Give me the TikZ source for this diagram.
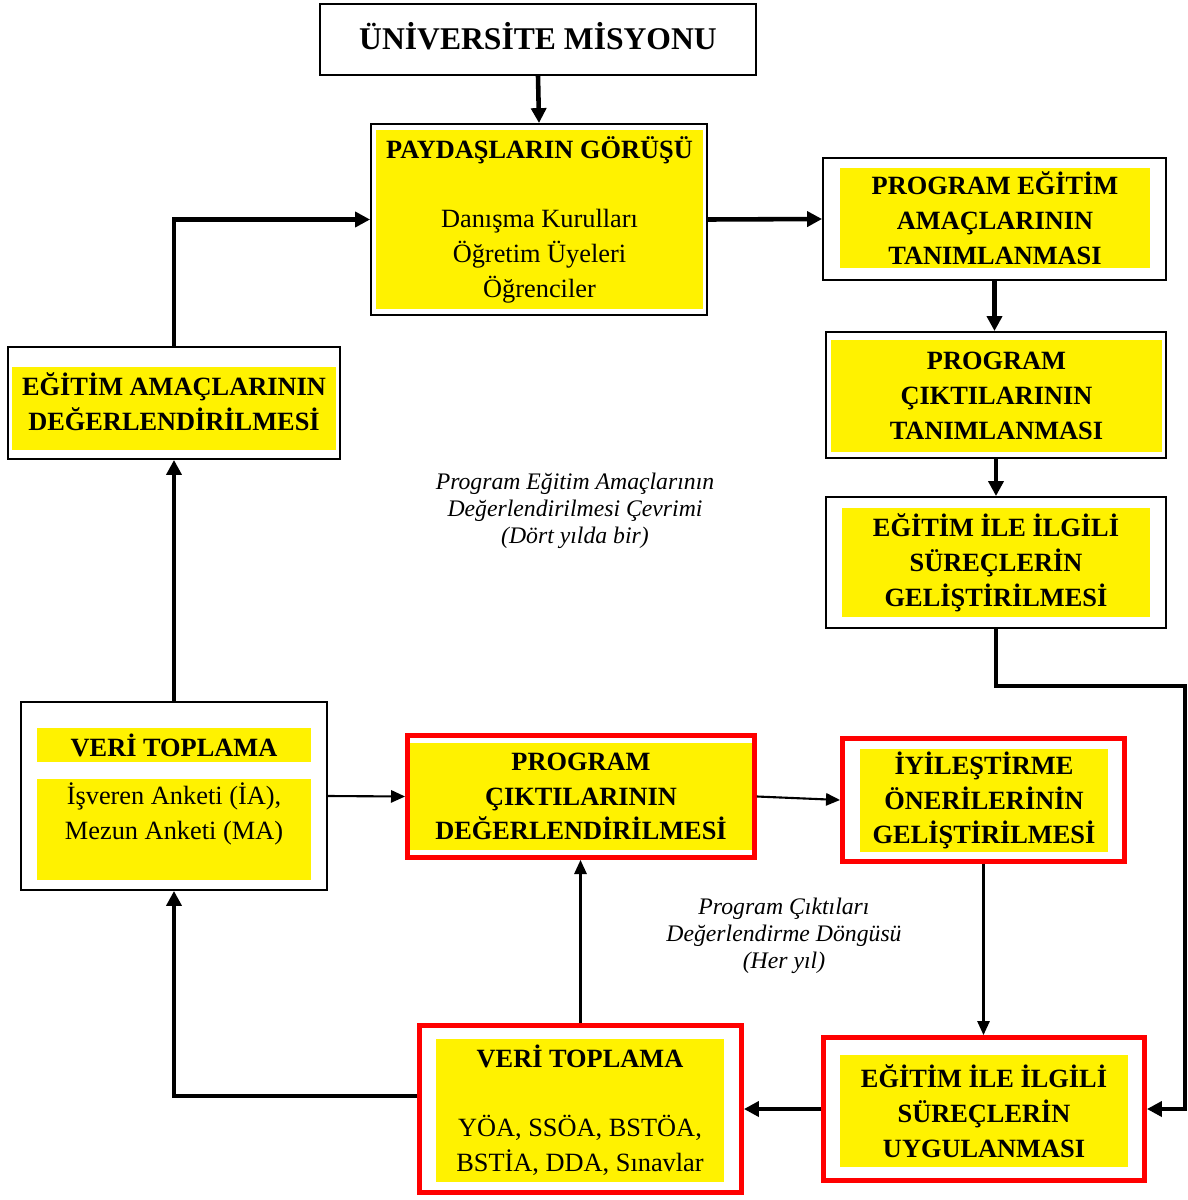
\documentclass[tikz,border=0pt]{standalone}
\usepackage{fontspec}
\setmainfont{Liberation Serif}
\usetikzlibrary{arrows.meta}

\newcommand{\boxsize}{\fontsize{15}{19.8}\selectfont}
\newcommand{\notesize}{\fontsize{13.5}{15.4}\selectfont}

\tikzset{
  frame/.style={draw, line width=1.1pt, fill=white, inner sep=0pt},
  redframe/.style={draw=red, line width=2.8pt, fill=white, inner sep=0pt},
  panel/.style={fill=yellow, inner sep=0pt, align=center, font=\boxsize},
  boldpanel/.style={panel, font=\boxsize\bfseries},
  plain/.style={inner sep=0pt, align=center, font=\boxsize},
  bigflow/.style={line width=2.6pt, -{Triangle[length=8.5pt,width=8.5pt]}},
  flow/.style={line width=1.2pt, -{Triangle[length=8pt,width=7pt]}},
  note/.style={align=center, font=\notesize\itshape}
}

\begin{document}
\begin{tikzpicture}[x=0.02cm, y=-0.02cm]
\useasboundingbox (0,0) rectangle (1187,1200);

% four-year cycle
\node[frame, minimum width=8.72cm, minimum height=1.42cm, text depth=4pt,
  font=\fontsize{18}{22}\selectfont\bfseries] (mis) at (538,39.5) {ÜNİVERSİTE MİSYONU};

\node[frame, minimum width=6.72cm, minimum height=3.82cm] (paydas) at (539,219.5) {};
\node[panel, minimum width=6.54cm, minimum height=3.58cm] (paydas-in) at (539.5,219.5)
  {{\bfseries PAYDAŞLARIN GÖRÜŞÜ}\\[19.8pt]Danışma Kurulları\\Öğretim Üyeleri\\Öğrenciler};

\node[frame, minimum width=6.86cm, minimum height=2.44cm] (pea) at (994.5,219) {};
\node[boldpanel, minimum width=6.2cm, minimum height=2.0cm] (pea-in) at (995,218)
  {PROGRAM EĞİTİM\\AMAÇLARININ\\TANIMLANMASI};

\node[frame, minimum width=6.8cm, minimum height=2.52cm] (pct) at (996,395) {};
\node[boldpanel, minimum width=6.62cm, minimum height=2.24cm] (pct-in) at (996.5,396)
  {PROGRAM\\ÇIKTILARININ\\TANIMLANMASI};

\node[frame, minimum width=6.8cm, minimum height=2.62cm] (eisg) at (996,562.5) {};
\node[boldpanel, minimum width=6.16cm, minimum height=2.18cm] (eisg-in) at (996,562.5)
  {EĞİTİM İLE İLGİLİ\\SÜREÇLERİN\\GELİŞTİRİLMESİ};

\node[frame, minimum width=6.64cm, minimum height=2.24cm] (ead) at (174,403) {};
\node[panel, minimum width=6.48cm, minimum height=1.66cm] (ead-in) at (174,408.5) {};
\node[plain, font=\boxsize\bfseries] (ead-txt) at (174,401.5)
  {EĞİTİM AMAÇLARININ\\DEĞERLENDİRİLMESİ};

\node[frame, minimum width=6.12cm, minimum height=3.76cm] (vt1) at (174,796) {};
\node[boldpanel, minimum width=5.48cm, minimum height=0.68cm] (vt1-head) at (174,745)
  {VERİ TOPLAMA};
\node[panel, minimum width=5.48cm, minimum height=2.02cm] (vt1-body) at (174,829.5) {};
\node[plain] (vt1-txt) at (174,814) {İşveren Anketi (İA),\\Mezun Anketi (MA)};

\node[note] (note-pea) at (575,511)
  {Program Eğitim Amaçlarının\\Değerlendirilmesi Çevrimi\\(Dört yılda bir)};

% yearly loop
\node[redframe, minimum width=6.94cm, minimum height=2.44cm] (pcd) at (581,796.5) {};
\node[boldpanel, minimum width=6.84cm, minimum height=2.14cm] (pcd-in) at (581,796.5)
  {PROGRAM\\ÇIKTILARININ\\DEĞERLENDİRİLMESİ};

\node[redframe, minimum width=5.64cm, minimum height=2.46cm] (iog) at (983.5,800) {};
\node[boldpanel, minimum width=4.96cm, minimum height=2.06cm] (iog-in) at (984,800.5)
  {İYİLEŞTİRME\\ÖNERİLERİNİN\\GELİŞTİRİLMESİ};

\node[redframe, minimum width=6.42cm, minimum height=2.86cm] (eisu) at (984,1109) {};
\node[boldpanel, minimum width=5.76cm, minimum height=2.24cm] (eisu-in) at (984,1111)
  {EĞİTİM İLE İLGİLİ\\SÜREÇLERİN\\UYGULANMASI};

\node[redframe, minimum width=6.44cm, minimum height=3.34cm] (vt2) at (580.5,1109) {};
\node[panel, minimum width=5.76cm, minimum height=2.86cm] (vt2-in) at (580,1110)
  {{\bfseries VERİ TOPLAMA}\\[19.8pt]YÖA, SSÖA, BSTÖA,\\BSTİA, DDA, Sınavlar};

\node[note] (note-pcd) at (784,936)
  {Program Çıktıları\\Değerlendirme Döngüsü\\(Her yıl)};

% connectors
\coordinate (rturn) at (1185,686);
\draw[bigflow] (mis.south) -- (paydas.north);
\draw[bigflow] (paydas.east) -- (pea.west);
\draw[bigflow] (pea.south) -- (pea.south |- pct.north);
\draw[bigflow] (pct.south) -- (pct.south |- eisg.north);
\draw[bigflow] (eisg.south) |- (rturn) |- (eisu.east);
\draw[bigflow] (ead.north) |- (paydas.west);
\draw[bigflow] (vt1.north) -- (ead.south);
\draw[bigflow] (eisu.west) -- (vt2.east);
\draw[bigflow] ([yshift=0.26cm]vt2.west) -| (vt1.south);
\draw[flow] (vt1.east) -- (pcd.west);
\draw[flow] (pcd.east) -- (iog.west);
\draw[flow] (iog.south) -- (iog.south |- eisu.north);
\draw[flow] (vt2.north) -- (vt2.north |- pcd.south);
\end{tikzpicture}
\end{document}
